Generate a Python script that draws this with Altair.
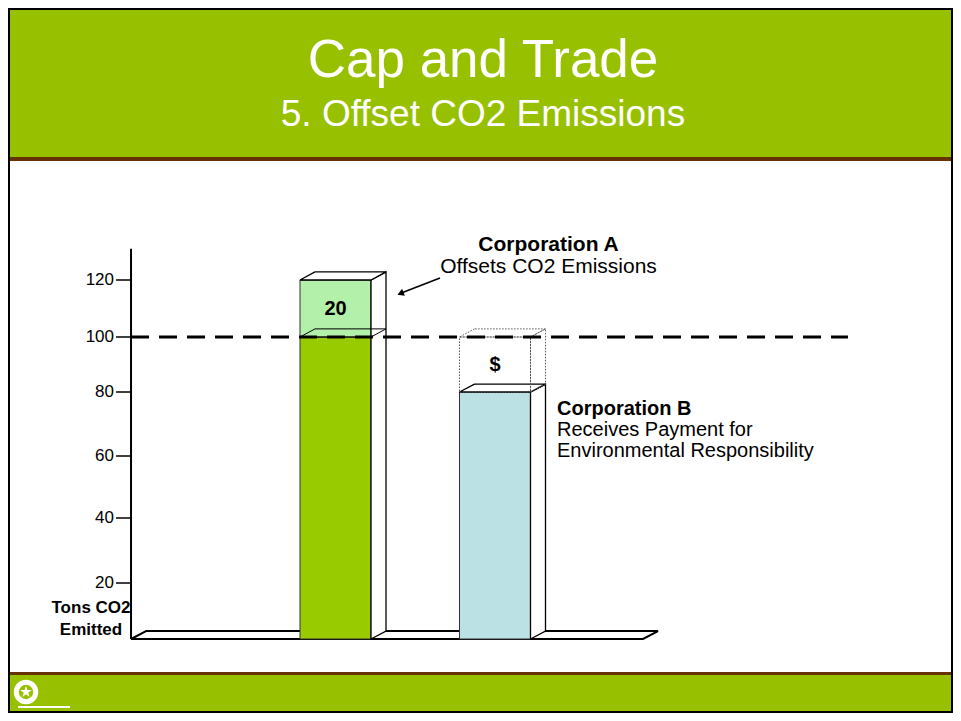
import altair as alt
import pandas as pd

# ---------------- data ----------------
CATEGORIES = ["Corporation A", "Corporation B"]
EMISSIONS = [120, 80]          # tons CO2 emitted
CAP = 100                      # emission cap (allowance)
Y_TICKS = [20, 40, 60, 80, 100, 120]
AXIS_TOP = 131

TITLE = "Cap and Trade"
SUBTITLE = "5. Offset CO2 Emissions"
NOTE_A = ["Corporation A", "Offsets CO2 Emissions"]
NOTE_B = ["Corporation B", "Receives Payment for", "Environmental Responsibility"]
Y_TITLE = ["Tons CO2", "Emitted"]
PAYMENT_LABEL = "$"

# ---------------- layout / style ----------------
W, H = 945, 705
FONT = "Liberation Sans"
HEADER_GREEN = "#97C000"
BROWN = "#663300"
BAR_GREEN = "#99CC00"
OFFSET_GREEN = "#B3F0AA"
BAR_BLUE = "#BCE1E4"

SLOT_PX = 159.5
SLOT0_PX = 168.0
X_DOMAIN = [-SLOT0_PX / SLOT_PX, (W - SLOT0_PX) / SLOT_PX]
Y_DOMAIN = [-26.4, 0, 20, 40, 60, 80, 100, 120, 215.4]
Y_RANGE = [705, 631, 575, 510, 448, 384, 329, 272, 0]
BAR_W = 71 / SLOT_PX
DX = 15 / SLOT_PX
DY = 2.85
FLOOR_L, FLOOR_R = -0.282, 2.928
CAP_R = 4.213
TICK = 15 / SLOT_PX

xs = alt.Scale(domain=X_DOMAIN, range=[0, W], nice=False, zero=False)
ys = alt.Scale(domain=Y_DOMAIN, range=Y_RANGE, nice=False, zero=False)


def X(f="x"):
    return alt.X(f"{f}:Q", scale=xs, axis=None)


def Y(f="y"):
    return alt.Y(f"{f}:Q", scale=ys, axis=None)


ONE = pd.DataFrame({"k": [0]})


def side(name, xr, lo, hi):
    return [dict(face=name, x=xr, y=hi, y2=lo),
            dict(face=name, x=xr + DX, y=hi + DY, y2=lo + DY)]


def top(name, xl, xr, v):
    return [dict(face=name, y=v, x=xl, x2=xr),
            dict(face=name, y=v + DY, x=xl + DX, x2=xr + DX)]


fronts, sides, tops, outline_tops = [], [], [], []
dot_fronts, dot_sides, dot_tops, labels = [], [], [], []
for i, (cat, e) in enumerate(zip(CATEGORIES, EMISSIONS)):
    c = i + 1
    xl, xr = c - BAR_W / 2, c + BAR_W / 2
    fronts.append(dict(part=cat, x=xl, x2=xr, y=0, y2=min(e, CAP)))
    sides += side(f"s{i}", xr, 0, e)
    tops += top(f"t{i}", xl, xr, e)
    if e > CAP:
        fronts.append(dict(part="Offset", x=xl, x2=xr, y=CAP, y2=e))
        outline_tops += top(f"o{i}", xl, xr, CAP)
        labels.append(dict(x=c, y=(CAP + e) / 2, t=str(e - CAP)))
    else:
        dot_fronts.append(dict(x=xl, x2=xr, y=e, y2=CAP))
        dot_sides += side(f"ds{i}", xr, e, CAP)
        dot_tops += top(f"dt{i}", xl, xr, CAP)
        labels.append(dict(x=c, y=(CAP + e) / 2, t=PAYMENT_LABEL))

fronts = pd.DataFrame(fronts)
floor = pd.DataFrame(top("floor", FLOOR_L, FLOOR_R, 0))
ticks = pd.DataFrame({"y": Y_TICKS, "x": FLOOR_L - TICK, "x2": FLOOR_L,
                      "t": [str(v) for v in Y_TICKS]})
axis_line = pd.DataFrame([dict(x=FLOOR_L, y=0, y2=AXIS_TOP)])
cap_line = pd.DataFrame([dict(x=FLOOR_L, x2=CAP_R, y=CAP)])


def rect_px(x, x2, y, y2, color):
    return alt.Chart(ONE).mark_rect(color=color).encode(
        x=alt.value(x), x2=alt.value(x2), y=alt.value(y), y2=alt.value(y2))


def text_px(t, x, y, size, weight="normal", align="center", color="black"):
    return alt.Chart(ONE).mark_text(
        font=FONT, fontSize=size, fontWeight=weight, align=align,
        baseline="alphabetic", color=color).encode(
        x=alt.value(x), y=alt.value(y), text=alt.value(t))


layers = []
# slide header / footer
layers.append(rect_px(0, W, 0, 149, HEADER_GREEN))
layers.append(rect_px(0, W, 149, 153, BROWN))
layers.append(rect_px(0, W, 664, 667, BROWN))
layers.append(rect_px(0, W, 667, H, HEADER_GREEN))
layers.append(text_px(TITLE, 475, 69, 53, color="white"))
layers.append(text_px(SUBTITLE, 475, 118, 37, color="white"))
# footer logo
STAR = "M0,-1L0.2245,-0.309L0.951,-0.309L0.363,0.118L0.588,0.809L0,0.382L-0.588,0.809L-0.363,0.118L-0.951,-0.309L-0.2245,-0.309Z"
layers.append(alt.Chart(ONE).mark_point(shape="circle", filled=False, color="white",
                                         strokeWidth=5, opacity=1, size=380).encode(
    x=alt.value(18), y=alt.value(684)))
layers.append(alt.Chart(ONE).mark_point(shape=STAR, filled=True, color="white",
                                         opacity=1, size=150).encode(
    x=alt.value(18), y=alt.value(684)))
layers.append(alt.Chart(ONE).mark_rule(color="white", strokeWidth=2).encode(
    x=alt.value(10), x2=alt.value(62), y=alt.value(699)))

# floor
layers.append(alt.Chart(floor).mark_area(orient="horizontal", fill="white", stroke="black",
                                         strokeWidth=2).encode(
    y=Y(), x=X(), x2=alt.X2("x2:Q"), detail="face:N"))
# y axis
layers.append(alt.Chart(axis_line).mark_rule(color="black", strokeWidth=2).encode(
    x=X(), y=Y(), y2=alt.Y2("y2:Q")))
layers.append(alt.Chart(ticks).mark_rule(color="black", strokeWidth=1.5).encode(
    x=X(), x2=alt.X2("x2:Q"), y=Y()))
layers.append(alt.Chart(ticks).mark_text(font=FONT, fontSize=17, align="right",
                                         baseline="middle", dx=-2, color="black").encode(
    x=X(), y=Y(), text="t:N"))
# bar front faces
layers.append(alt.Chart(fronts).mark_rect(stroke="#333333", strokeWidth=1).encode(
    x=X(), x2=alt.X2("x2:Q"), y=Y(), y2=alt.Y2("y2:Q"),
    color=alt.Color("part:N", legend=None,
                    scale=alt.Scale(domain=CATEGORIES + ["Offset"],
                                    range=[BAR_GREEN, BAR_BLUE, OFFSET_GREEN]))))
# 3-D side and top faces
layers.append(alt.Chart(pd.DataFrame(sides)).mark_area(
    orient="vertical", fill="white", stroke="black", strokeWidth=1.3).encode(
    x=X(), y=Y(), y2=alt.Y2("y2:Q"), detail="face:N"))
layers.append(alt.Chart(pd.DataFrame(tops)).mark_area(
    orient="horizontal", fill="white", stroke="black", strokeWidth=1.3).encode(
    y=Y(), x=X(), x2=alt.X2("x2:Q"), detail="face:N"))
layers.append(alt.Chart(pd.DataFrame(outline_tops)).mark_area(
    orient="horizontal", fillOpacity=0, stroke="black", strokeWidth=1).encode(
    y=Y(), x=X(), x2=alt.X2("x2:Q"), detail="face:N"))
# unused allowance (dotted box)
DOT = dict(fillOpacity=0, stroke="#555555", strokeWidth=1, strokeDash=[1.5, 1.5])
layers.append(alt.Chart(pd.DataFrame(dot_fronts)).mark_rect(**DOT).encode(
    x=X(), x2=alt.X2("x2:Q"), y=Y(), y2=alt.Y2("y2:Q")))
layers.append(alt.Chart(pd.DataFrame(dot_sides)).mark_area(orient="vertical", **DOT).encode(
    x=X(), y=Y(), y2=alt.Y2("y2:Q"), detail="face:N"))
layers.append(alt.Chart(pd.DataFrame(dot_tops)).mark_area(orient="horizontal", **DOT).encode(
    y=Y(), x=X(), x2=alt.X2("x2:Q"), detail="face:N"))
# cap line
layers.append(alt.Chart(cap_line).mark_rule(color="black", strokeWidth=3,
                                            strokeDash=[18, 10]).encode(
    x=X(), x2=alt.X2("x2:Q"), y=Y()))
# labels inside boxes
layers.append(alt.Chart(pd.DataFrame(labels)).mark_text(
    font=FONT, fontSize=20, fontWeight="bold", baseline="middle", color="black").encode(
    x=X(), y=Y(), text="t:N"))
# annotations
for k, line in enumerate(NOTE_A):
    layers.append(text_px(line, 540.5, 243 + 22 * k, 21, "bold" if k == 0 else "normal"))
for k, line in enumerate(NOTE_B):
    layers.append(text_px(line, 549, 407 + 21 * k, 20, "bold" if k == 0 else "normal",
                          align="left"))
layers.append(alt.Chart(ONE).mark_rule(color="black", strokeWidth=1.5).encode(
    x=alt.value(432), y=alt.value(270), x2=alt.value(392), y2=alt.value(285.5)))
layers.append(alt.Chart(ONE).mark_point(shape="triangle-up", angle=248, filled=True,
                                         color="black", size=55, opacity=1).encode(
    x=alt.value(392.5), y=alt.value(285.5)))
for k, line in enumerate(Y_TITLE):
    layers.append(text_px(line, 83, 605 + 22 * k, 17, "bold"))
# slide border
layers.append(alt.Chart(ONE).mark_rect(fillOpacity=0, stroke="black", strokeWidth=4).encode(
    x=alt.value(0), x2=alt.value(W), y=alt.value(0), y2=alt.value(H)))

chart = alt.layer(*layers).properties(
    width=W, height=H, padding=0,
    autosize=alt.AutoSizeParams(type="none"),
    background="white",
).configure_view(strokeWidth=0)

chart.save("out.html", embed_options={"renderer": "svg", "actions": False})
